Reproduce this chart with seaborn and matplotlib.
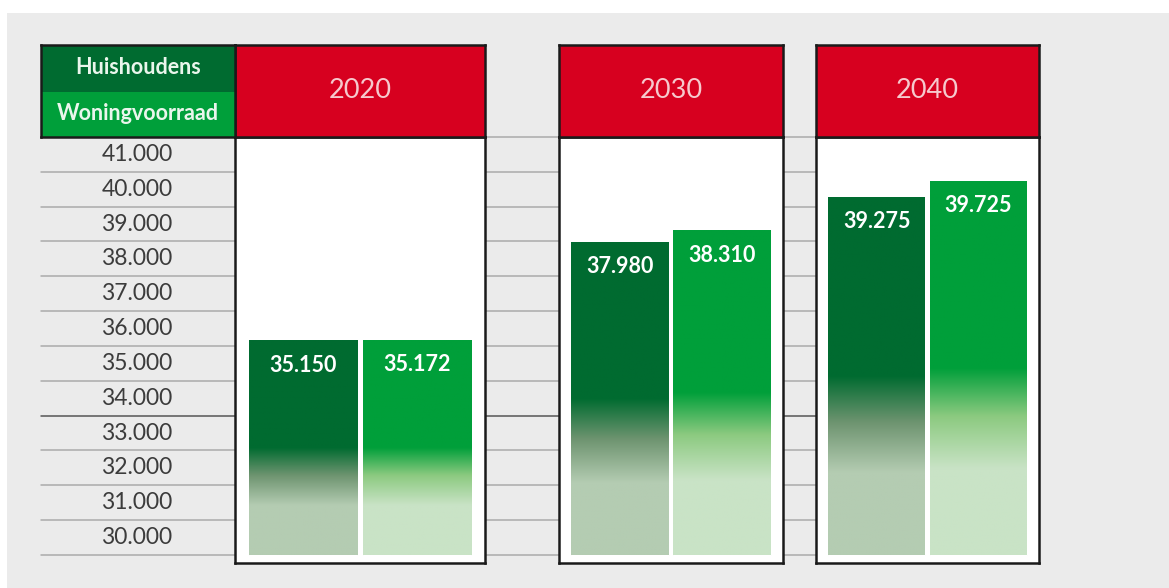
import numpy as np
import matplotlib as mpl
import matplotlib.pyplot as plt
from matplotlib.colors import LinearSegmentedColormap
import pandas as pd
import seaborn as sns

# data
jaren = ["2020", "2030", "2040"]
reeksen = ["Huishoudens", "Woningvoorraad"]
huishoudens = [35150, 37980, 39275]
woningvoorraad = [35172, 38310, 39725]
tick_waarden = [30000, 31000, 32000, 33000, 34000, 35000, 36000, 37000, 38000, 39000, 40000, 41000]
tick_labels = ["30.000", "31.000", "32.000", "33.000", "34.000", "35.000",
               "36.000", "37.000", "38.000", "39.000", "40.000", "41.000"]

sns.set_theme(style="white")
plt.rcParams['font.family'] = ['Lato', 'DejaVu Sans']

W, H = 1169, 588
fig = plt.figure(figsize=(W / 100, H / 100), dpi=100)
fig.patch.set_facecolor('white')


def box(x0, y0, x1, y1):
    # pixel box, origin top-left -> figure rect
    return [x0 / W, 1 - y1 / H, (x1 - x0) / W, (y1 - y0) / H]


# grey backdrop
fig.patches.append(mpl.patches.Rectangle((7 / W, 0), 1 - 7 / W, 1 - 13 / H,
                                         transform=fig.transFigure, facecolor='#ebebeb',
                                         edgecolor='none', zorder=-10))

basis = 29000
ytop = 41000
ybot = basis - 8 * (ytop - basis) / 418.0

donker = '#006b30'
licht = '#009f3a'
cmap_donker = LinearSegmentedColormap.from_list(
    'd', [(0, '#b4ccb2'), (0.23, '#b4ccb2'), (0.37, '#6e9470'), (0.50, donker), (1, donker)])
cmap_licht = LinearSegmentedColormap.from_list(
    'l', [(0, '#c9e3c6'), (0.23, '#c9e3c6'), (0.37, '#8cca80'), (0.50, licht), (1, licht)])

# gridlines + y labels
axg = fig.add_axes(box(41, 137, 1039, 555), zorder=0)
axg.set_xlim(41, 1039)
axg.set_ylim(basis, ytop)
axg.axis('off')
lijnen = [basis] + tick_waarden
for v in lijnen:
    kleur = '#555555' if v == 33000 else '#ababab'
    axg.axhline(v, color=kleur, lw=1.1, clip_on=False)
for v, lab in zip(tick_waarden, tick_labels):
    axg.text(137, v - 500, lab, ha='center', va='center', fontsize=16.5, color='#3c3c3c')

panel_x = [(235, 485), (559, 783), (816, 1039)]
grad = np.linspace(0, 1, 256).reshape(-1, 1)

for i, jaar in enumerate(jaren):
    x0, x1 = panel_x[i]
    ax = fig.add_axes(box(x0, 137, x1, 563), zorder=2)
    df = pd.DataFrame({"jaar": [jaar, jaar], "reeks": reeksen,
                       "waarde": [huishoudens[i], woningvoorraad[i]]})
    sns.barplot(data=df, x="jaar", y="waarde", hue="reeks", hue_order=reeksen,
                palette=[donker, licht], width=0.91, gap=0.045, saturation=1,
                legend=False, ax=ax)
    for p, cm in zip(ax.patches, [cmap_donker, cmap_licht]):
        top = p.get_height()
        p.set_y(basis)
        p.set_height(top - basis)
        bx = p.get_x()
        bw = p.get_width()
        ax.imshow(grad, cmap=cm, extent=(bx, bx + bw, basis, top), origin='lower',
                  aspect='auto', interpolation='bilinear', zorder=3)
        ax.text(bx + bw / 2, top - 700, f"{int(top):,}".replace(",", "."),
                ha='center', va='center', color='white', fontsize=15.5,
                fontweight='bold', zorder=4)
    ax.set_xlim(-0.5, 0.5)
    ax.set_ylim(ybot, ytop)
    ax.set_facecolor('white')
    ax.set_xticks([])
    ax.set_yticks([])
    ax.set_xlabel('')
    ax.set_ylabel('')
    for s in ax.spines.values():
        s.set_color('#1a1a1a')
        s.set_linewidth(1.8)

    # red year header
    axh = fig.add_axes(box(x0, 45, x1, 137), zorder=3)
    axh.set_facecolor('#d7001f')
    axh.set_xticks([])
    axh.set_yticks([])
    for s in axh.spines.values():
        s.set_color('#1a1a1a')
        s.set_linewidth(1.8)
    axh.text(0.5, 0.5, jaar, transform=axh.transAxes, ha='center', va='center',
             fontsize=19.5, color='#f6c9cd')

# legend cell
axl = fig.add_axes(box(41, 45, 235, 137), zorder=3)
axl.set_xlim(0, 1)
axl.set_ylim(0, 1)
axl.add_patch(mpl.patches.Rectangle((0, 0.49), 1, 0.51, facecolor=donker, edgecolor='none'))
axl.add_patch(mpl.patches.Rectangle((0, 0), 1, 0.49, facecolor=licht, edgecolor='none'))
axl.text(0.5, 0.75, reeksen[0], ha='center', va='center', fontsize=15.5,
         fontweight='bold', color='#eaf6ec')
axl.text(0.5, 0.26, reeksen[1], ha='center', va='center', fontsize=15.5,
         fontweight='bold', color='#eaf6ec')
axl.set_xticks([])
axl.set_yticks([])
for s in axl.spines.values():
    s.set_color('#1a1a1a')
    s.set_linewidth(1.8)

fig.savefig('out.png', dpi=100)
